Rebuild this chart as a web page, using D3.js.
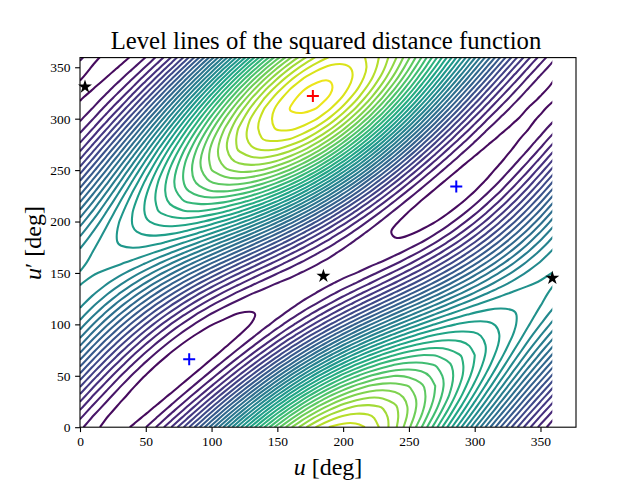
<!DOCTYPE html><html><head><meta charset="utf-8"><script src="https://cdn.jsdelivr.net/npm/d3@7"></script>
<style>body{margin:0;background:#fff}text{font-family:"Liberation Serif",serif;fill:#000}</style></head><body><svg id="c" width="640" height="480"></svg>
<script>
// Level-line number (x100): one row per u' = 0,10..350, one column per u = 0,10..350.
const levelTable=[
[126,28,-26,-32,9,98,232,410,625,872,1143,1431,1726,2018,2297,2555,2781,2969,3113,3208,3250,3240,3179,3069,2914,2720,2494,2244,1976,1699,1421,1149,891,654,444,266],
[221,92,4,-39,-36,14,112,254,437,657,906,1177,1461,1749,2031,2297,2540,2749,2920,3045,3122,3149,3126,3054,2937,2778,2584,2361,2115,1855,1587,1320,1059,813,587,388],
[337,180,61,-17,-51,-39,20,125,273,460,682,930,1197,1475,1753,2022,2274,2499,2691,2844,2952,3014,3028,2994,2915,2794,2635,2444,2226,1989,1738,1481,1224,975,740,525],
[468,290,144,34,-35,-60,-40,26,136,289,478,699,943,1204,1472,1737,1992,2227,2435,2610,2745,2839,2888,2891,2851,2768,2647,2491,2306,2096,1867,1627,1381,1135,897,673],
[612,417,249,112,11,-50,-67,-40,32,147,301,489,707,945,1196,1451,1702,1941,2159,2350,2508,2628,2709,2748,2745,2701,2619,2500,2350,2172,1971,1753,1524,1288,1054,826],
[763,558,373,213,85,-7,-60,-70,-37,38,155,308,494,704,933,1172,1414,1649,1870,2071,2246,2389,2497,2568,2600,2594,2551,2471,2358,2216,2047,1856,1649,1430,1205,981],
[916,708,512,336,185,65,-20,-66,-70,-33,45,161,311,490,692,909,1134,1359,1578,1782,1967,2127,2258,2357,2421,2451,2445,2404,2330,2224,2091,1932,1751,1554,1346,1131],
[1067,862,662,475,307,164,52,-26,-66,-66,-27,50,163,308,478,668,871,1081,1290,1492,1681,1851,1999,2121,2213,2274,2304,2300,2265,2198,2101,1977,1829,1658,1472,1273],
[1211,1015,818,627,448,288,153,47,-25,-60,-58,-19,55,163,298,457,634,822,1016,1208,1395,1569,1728,1866,1981,2070,2131,2163,2165,2137,2079,1992,1877,1738,1578,1401],
[1343,1162,974,785,603,432,280,152,52,-15,-48,-46,-10,59,158,283,429,591,763,940,1117,1289,1452,1601,1733,1845,1934,1997,2034,2043,2023,1974,1896,1792,1662,1511],
[1459,1299,1126,947,767,592,429,284,162,67,3,-30,-31,1,62,150,262,393,539,695,857,1020,1180,1333,1476,1604,1716,1807,1875,1919,1936,1925,1885,1817,1721,1601],
[1555,1422,1270,1106,935,763,596,441,302,185,93,29,-6,-11,12,63,139,236,351,481,622,770,921,1071,1218,1357,1485,1598,1694,1769,1820,1845,1843,1813,1754,1667],
[1630,1527,1401,1258,1103,940,776,617,468,334,221,129,64,24,11,24,63,124,205,305,419,546,681,823,966,1109,1247,1377,1495,1597,1679,1739,1773,1780,1758,1708],
[1680,1611,1516,1399,1265,1118,963,807,655,511,381,268,176,105,59,36,36,60,106,171,255,356,470,596,730,870,1011,1151,1285,1408,1517,1608,1676,1719,1735,1722],
[1705,1672,1611,1525,1417,1291,1152,1006,857,710,570,442,328,231,153,97,61,48,56,85,136,205,293,397,516,646,784,927,1071,1210,1341,1458,1557,1634,1685,1710],
[1704,1708,1684,1632,1555,1455,1338,1208,1069,926,783,645,515,397,293,206,137,87,58,50,64,99,157,234,331,445,573,713,859,1008,1154,1293,1418,1525,1611,1671],
[1678,1719,1732,1717,1674,1606,1516,1407,1284,1151,1012,872,733,599,474,360,261,177,112,66,43,42,65,111,181,273,385,515,657,809,964,1118,1264,1398,1515,1609],
[1627,1705,1756,1778,1772,1738,1679,1598,1497,1381,1252,1115,974,831,690,556,429,315,216,134,73,34,20,32,71,136,226,338,471,618,777,939,1101,1256,1399,1524],
[1553,1666,1753,1813,1845,1848,1824,1775,1701,1607,1495,1369,1231,1086,936,786,639,498,368,252,154,77,25,0,4,37,100,190,306,443,597,763,934,1104,1268,1420],
[1459,1603,1724,1821,1891,1933,1946,1932,1890,1824,1734,1625,1498,1356,1204,1044,881,719,562,415,283,170,80,16,-17,-19,12,74,167,288,431,593,767,947,1126,1299],
[1348,1518,1671,1802,1909,1990,2041,2064,2058,2024,1962,1875,1765,1634,1485,1323,1151,973,794,620,457,308,181,80,8,-32,-36,-5,60,158,284,435,605,788,977,1165],
[1221,1413,1594,1757,1899,2017,2107,2168,2200,2201,2171,2112,2024,1910,1772,1613,1438,1250,1056,860,669,489,327,188,77,1,-43,-47,-14,56,160,295,454,633,825,1023],
[1084,1293,1495,1686,1860,2012,2140,2241,2311,2349,2355,2328,2267,2176,2054,1906,1734,1543,1339,1126,913,706,512,338,190,73,-8,-50,-52,-14,63,175,318,486,675,876],
[940,1159,1378,1591,1793,1977,2141,2278,2387,2465,2508,2516,2487,2423,2324,2192,2030,1842,1634,1412,1182,953,731,525,341,187,68,-13,-53,-50,-5,79,200,352,530,729],
[794,1016,1245,1475,1699,1912,2107,2280,2427,2543,2625,2670,2677,2644,2572,2462,2316,2138,1933,1707,1467,1221,971,743,527,337,180,61,-18,-52,-43,10,104,234,396,585],
[648,868,1101,1341,1582,1817,2041,2246,2428,2581,2702,2786,2830,2832,2791,2708,2584,2422,2226,2003,1759,1502,1241,984,741,519,327,169,53,-21,-48,-30,32,135,276,449],
[508,718,949,1193,1445,1697,1943,2176,2390,2579,2737,2859,2941,2980,2974,2922,2825,2684,2504,2290,2049,1788,1516,1242,976,727,502,310,155,44,-22,-41,-13,59,173,324],
[377,572,794,1036,1292,1554,1817,2073,2314,2535,2728,2887,3008,3085,3116,3098,3031,2917,2758,2560,2327,2069,1793,1509,1226,954,701,477,288,139,35,-22,-31,7,90,215],
[260,434,640,873,1126,1393,1667,1939,2203,2451,2676,2870,3027,3142,3211,3229,3197,3113,2981,2803,2586,2337,2064,1775,1482,1193,918,666,445,262,121,26,-21,-19,30,124],
[160,307,493,710,954,1219,1496,1779,2060,2330,2582,2807,2999,3151,3257,3313,3317,3267,3165,3014,2818,2584,2320,2034,1736,1437,1146,872,624,409,233,102,17,-19,-6,54],
[80,197,356,553,781,1037,1311,1598,1889,2175,2449,2701,2924,3110,3253,3346,3387,3374,3306,3185,3015,2802,2553,2277,1982,1679,1377,1087,817,576,369,203,82,9,-16,8],
[23,106,235,405,613,852,1117,1401,1695,1992,2282,2556,2805,3022,3199,3329,3407,3431,3399,3312,3173,2986,2758,2497,2212,1912,1607,1307,1021,757,524,327,172,62,0,-13],
[-9,38,133,272,454,672,921,1195,1486,1786,2085,2375,2646,2890,3097,3261,3375,3436,3442,3391,3285,3129,2928,2688,2419,2128,1827,1523,1228,948,694,471,285,141,43,-7],
[-15,-5,53,159,309,501,728,986,1267,1564,1866,2166,2452,2717,2950,3145,3293,3390,3433,3420,3350,3229,3058,2845,2597,2323,2031,1731,1432,1144,873,629,417,243,111,24],
[6,-21,0,69,185,345,546,782,1046,1332,1631,1933,2229,2510,2764,2985,3164,3295,3374,3398,3366,3281,3145,2963,2742,2489,2214,1924,1629,1338,1058,798,565,364,202,81],
[54,-10,-27,4,83,209,379,587,830,1099,1388,1686,1985,2274,2544,2786,2991,3153,3266,3326,3332,3285,3185,3038,2848,2623,2370,2097,1812,1525,1242,973,724,503,314,163]
];
const gridStep=10;
const lineLevels=d3.range(0,35);
const tickValues=[0,50,100,150,200,250,300,350];
const minimaU=[83,286],minimaV=[66,234];
const maximaU=[177],maximaV=[322];
const saddleU=[3.8,185,359],saddleV=[331,147,145];
const titleText='Level lines of the squared distance function';

const N=levelTable.length+1;                 // the domain is periodic: repeat first row and column at 360
const field=[];
for(let j=0;j<N;j++)for(let i=0;i<N;i++)field.push(levelTable[j%(N-1)][i%(N-1)]/100);

const svg=d3.select('#c');
const x=d3.scaleLinear([0,377],[80,576]),y=d3.scaleLinear([0,359.4],[427.2,57.6]);
svg.append('clipPath').attr('id','k').append('rect').attr('x',80).attr('y',57.6).attr('width',x(359)-80).attr('height',369.6);
const g=svg.append('g').attr('clip-path','url(#k)');
const px=p=>x((p[0]-.5)*gridStep),py=p=>y((p[1]-.5)*gridStep);
const openLine=d3.line().x(px).y(py).curve(d3.curveBasis);
const closedLine=d3.line().x(px).y(py).curve(d3.curveBasisClosed);
const colour=l=>d3.interpolateViridis((l+1)/36);
const draw=(d,l)=>g.append('path').attr('d',d).attr('fill','none').attr('stroke',colour(l)).attr('stroke-width',2.08);
const inside=p=>p[0]>0&&p[0]<N&&p[1]>0&&p[1]<N;
d3.contours().size([N,N]).thresholds(lineLevels)(field).forEach(c=>{
  c.coordinates.forEach(poly=>poly.forEach(ring=>{
    if(ring.every(inside)){draw(closedLine(ring.slice(1)),c.value);return;}
    const m=ring.length-1,s=ring.findIndex(p=>!inside(p));
    let run=[];
    for(let i=0;i<=m;i++){
      const p=ring[(s+i)%m];
      if(inside(p))run.push(p);
      else{if(run.length>1)draw(openLine(run),c.value);run=[];}
    }
    if(run.length>1)draw(openLine(run),c.value);
  }));
});
const styleAxis=sel=>{sel.select('.domain').remove();sel.selectAll('line').attr('stroke-width',1.1);sel.selectAll('text').attr('font-size',13.5).style('font-family','"Liberation Serif",serif');};
svg.append('g').attr('transform','translate(0,427.2)').call(d3.axisBottom(x).tickValues(tickValues).tickSize(4.9).tickPadding(4.5)).call(styleAxis);
svg.append('g').attr('transform','translate(80,0)').call(d3.axisLeft(y).tickValues(tickValues).tickSize(4.9).tickPadding(4.5)).call(styleAxis);
svg.append('rect').attr('x',80).attr('y',57.6).attr('width',496).attr('height',369.6).attr('fill','none').attr('stroke','#000').attr('stroke-width',1.1);
svg.append('text').attr('x',326).attr('y',49).attr('text-anchor','middle').attr('font-size',24.7).text(titleText);
const xl=svg.append('text').attr('x',328).attr('y',475).attr('text-anchor','middle').attr('font-size',24);
xl.append('tspan').attr('font-style','italic').text('u');xl.append('tspan').text(' [deg]');
const yl=svg.append('text').attr('transform','translate(41,243) rotate(-90)').attr('text-anchor','middle').attr('font-size',24);
yl.append('tspan').attr('font-style','italic').text('u');yl.append('tspan').text('′ [deg]');
const plus=(us,vs,col)=>us.forEach((u,i)=>svg.append('path').attr('transform',`translate(${x(u)},${y(vs[i])})`).attr('d','M-6,0H6M0,-6V6').attr('stroke',col).attr('stroke-width',2).attr('fill','none'));
plus(minimaU,minimaV,'blue');
plus(maximaU,maximaV,'red');
saddleU.forEach((u,i)=>svg.append('path').attr('transform',`translate(${x(u)},${y(saddleV[i])})`).attr('d',d3.symbol(d3.symbolStar,60)()).attr('fill','#000'));
</script></body></html>
